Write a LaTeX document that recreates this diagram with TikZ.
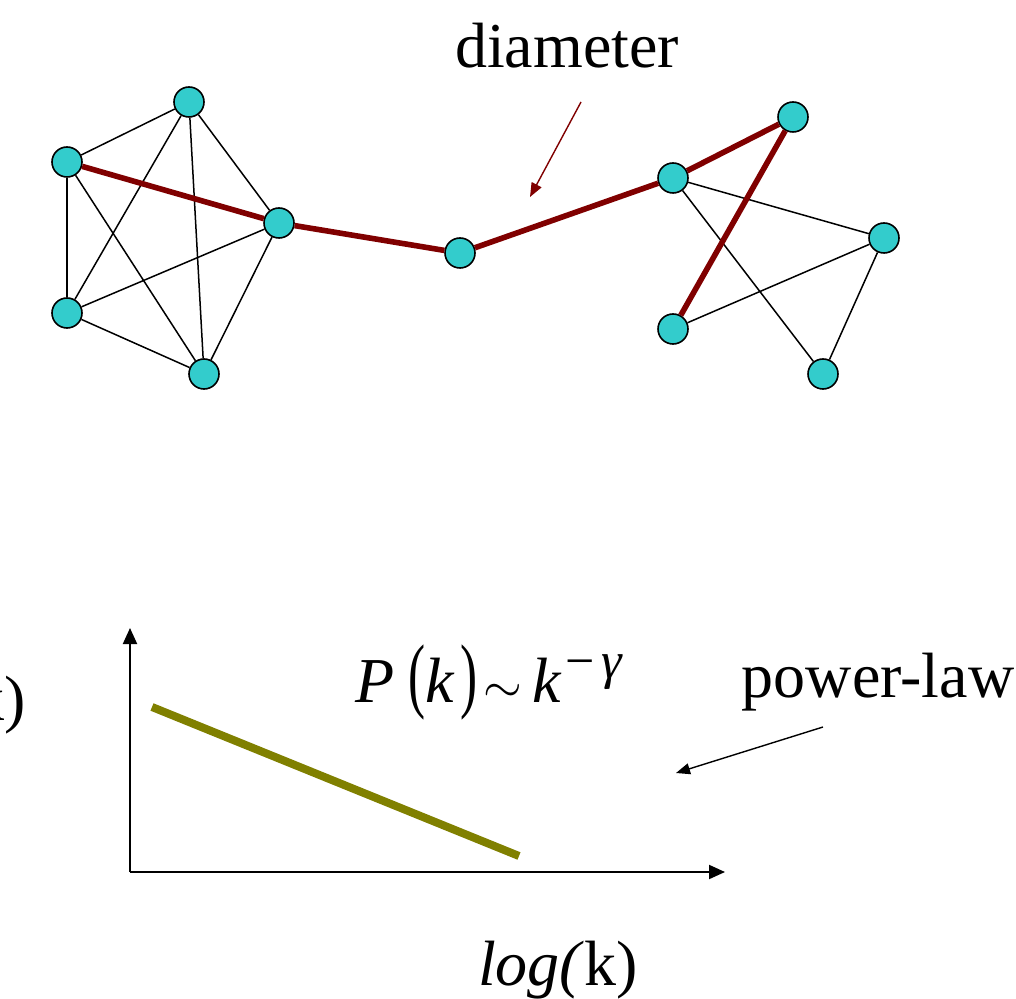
\documentclass[tikz,border=0pt]{standalone}
\usepackage{fontspec}
\setmainfont{Liberation Serif}
\usepackage{xcolor}
\usepackage{tikz}
\usetikzlibrary{arrows.meta}
\definecolor{diamred}{RGB}{128,0,0}
\definecolor{vertcyan}{RGB}{51,204,204}
\definecolor{lawolive}{RGB}{128,128,0}

\begin{document}
\begin{tikzpicture}[
  x=0.5pt, y=-0.5pt,
  font=\fontsize{32}{38}\selectfont,
  vert/.style={circle, draw=black, thick, fill=vertcyan, minimum size=15pt, inner sep=0pt},
  link/.style={line width=0.75pt, draw=black},
  diam/.style={line width=2.8pt, draw=diamred},
  axis/.style={line width=1pt, -{Triangle[length=8pt, width=7pt]}},
  pointer/.style={line width=0.7pt, -{Triangle[length=7pt, width=5.5pt]}}
]
  \useasboundingbox (0,0) rectangle (1016,999);
  % left cluster
  \node[vert] (a1) at (189,102) {};
  \node[vert] (a2) at (67,162) {};
  \node[vert] (a3) at (279,223) {};
  \node[vert] (a4) at (67,313) {};
  \node[vert] (a5) at (204,374) {};
  \node[vert] (m) at (460,253) {};
  % right cluster
  \node[vert] (b1) at (673,178) {};
  \node[vert] (b2) at (793,117) {};
  \node[vert] (b3) at (884,238) {};
  \node[vert] (b4) at (673,329) {};
  \node[vert] (b5) at (823,374) {};
  \foreach \u/\v in {a1/a2,a1/a3,a1/a4,a1/a5,a2/a4,a2/a5,a3/a4,a3/a5,a4/a5,b1/b3,b1/b5,b4/b3,b3/b5} {
    \draw[link] (\u) -- (\v);
  }
  \foreach \u/\v in {a2/a3,a3/m,m/b1,b1/b2,b2/b4} {
    \draw[diam] (\u) -- (\v);
  }
  \node[anchor=base] (diamlbl) at (567,68) {diameter};
  \coordinate (diamtail) at (581,102);
  \coordinate (diamtip) at (530,197);
  \draw[pointer, diamred] (diamtail) -- (diamtip);

  % degree distribution
  \coordinate (origin) at (130,872);
  \coordinate (ytop) at (130,628);
  \coordinate (xend) at (725,872);
  \draw[axis] (origin) -- (ytop);
  \draw[axis] (origin) -- (xend);
  \coordinate (plstart) at (152,707);
  \coordinate (plend) at (519,856);
  \draw[line width=4pt, lawolive] (plstart) -- (plend);
  \node[anchor=base west, inner sep=0pt] (law) at (355,702)
    {\textit{P}\hspace{7pt}\scalebox{0.8}[1.3]{(}\textit{k}\hspace{3pt}\scalebox{0.8}[1.3]{)}\hspace{3pt}$\sim$\hspace{5pt}\textit{k}\hspace{2pt}\raisebox{12pt}{\fontsize{26}{30}\selectfont −\hspace{3pt}\textit{γ}}};
  \node[anchor=base] (lawlbl) at (878,697) {power-law};
  \coordinate (lawtail) at (823,727);
  \coordinate (lawtip) at (676,773);
  \draw[pointer] (lawtail) -- (lawtip);
  \node[anchor=base east, inner sep=0pt] (ylbl) at (26,720) {k)};
  \node[anchor=base] (xlbl) at (558,985) {\textit{log(}k)};
\end{tikzpicture}
\end{document}
